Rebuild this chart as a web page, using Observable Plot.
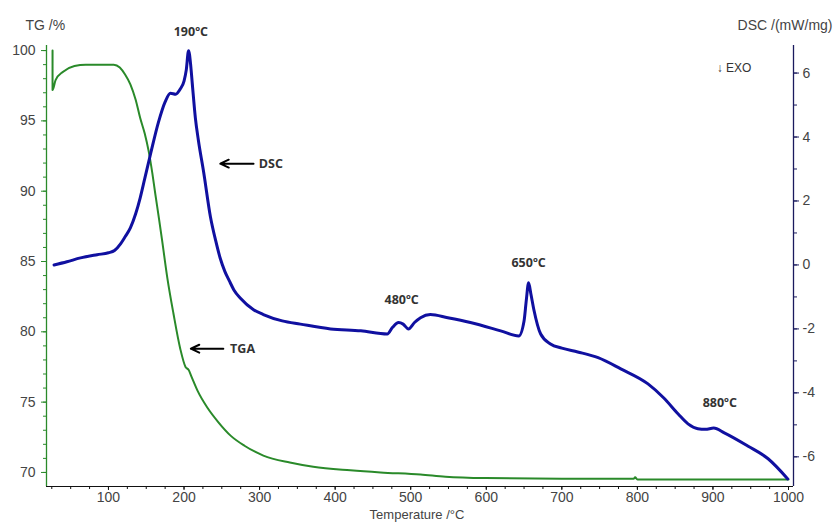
<!DOCTYPE html>
<html>
<head>
<meta charset="utf-8">
<script src="https://cdn.jsdelivr.net/npm/d3@7"></script>
<script src="https://cdn.jsdelivr.net/npm/@observablehq/plot@0.6"></script>
<style>
  html, body { margin: 0; padding: 0; background: white; overflow: hidden; }
  #chart svg { display: block; }
</style>
</head>
<body>
<div id="chart"></div>
<script>
// ---------- data ----------
const temperatureTG = [26, 26, 30, 40, 55, 70, 107, 115, 122, 129, 136, 142, 148, 153, 158, 162, 167, 171, 178, 186, 195, 202, 206, 210, 218, 231, 245, 262, 280, 305, 340, 371, 420, 460, 513, 546, 599, 700, 795, 797, 800, 1000];
const massTG = [100, 97.2, 97.9, 98.5, 98.9, 99.0, 99.0, 98.8, 98.3, 97.6, 96.5, 95.2, 94.1, 92.9, 91.3, 89.8, 88.0, 86.5, 83.8, 81.3, 78.8, 77.5, 77.3, 76.8, 75.8, 74.6, 73.6, 72.6, 71.9, 71.2, 70.7, 70.4, 70.15, 70.0, 69.85, 69.7, 69.6, 69.55, 69.55, 69.65, 69.5, 69.5];

const temperatureDSC = [28, 45, 63, 85, 100, 108, 116, 122, 129, 136, 142, 148, 156, 166, 175, 182, 189, 195, 200, 203, 206, 209, 211, 215, 219, 226, 235, 242, 248, 254, 260, 266, 275, 292, 305, 330, 354, 394, 434, 469, 476, 484, 490, 497, 505, 513, 526, 549, 579, 619, 643, 650, 653, 656, 659, 663, 672, 685, 700, 721, 748, 778, 814, 835, 854, 867, 880, 890, 901, 915, 946, 973, 999];
const heatFlowDSC = [0.0, 0.1, 0.22, 0.32, 0.38, 0.45, 0.66, 0.88, 1.16, 1.6, 2.1, 2.7, 3.5, 4.45, 5.1, 5.37, 5.34, 5.5, 5.75, 6.1, 6.7, 6.2, 5.65, 4.6, 3.9, 2.9, 1.5, 0.75, 0.2, -0.2, -0.5, -0.78, -1.05, -1.4, -1.55, -1.75, -1.85, -2.0, -2.06, -2.16, -1.95, -1.8, -1.85, -2.0, -1.8, -1.65, -1.55, -1.65, -1.8, -2.06, -2.22, -1.75, -1.1, -0.56, -0.9, -1.4, -2.16, -2.47, -2.6, -2.72, -2.9, -3.25, -3.72, -4.16, -4.66, -4.97, -5.12, -5.14, -5.1, -5.25, -5.66, -6.06, -6.69];

const tempTicks = [100, 200, 300, 400, 500, 600, 700, 800, 900, 1000];
const tgTicks = [70, 75, 80, 85, 90, 95, 100];
const dscTicks = [-6, -4, -2, 0, 2, 4, 6];

const peakLabels = ["190ºC", "480ºC", "650ºC", "880ºC"];
const peakLabelT = [209, 488, 656, 909];
const peakLabelDSC = [7.27, -1.11, 0.05, -4.33];

const curveNames = ["DSC", "TGA"];
const curveArrowFromT = [292, 252];
const curveArrowToT = [248, 209];
const curveArrowTG = [91.96, 78.8];
const curveNameT = [299, 261];

const exoLabel = "↓ EXO";
const exoT = 928;
const exoDSC = 6.14;

const titleTG = "TG /%";
const titleDSC = "DSC /(mW/mg)";
const titleTemp = "Temperature /°C";

// ---------- scales ----------
const tempDomain = [18, 1006.6];
const tgDomain = [69.0, 100.36];
// secondary (DSC) axis expressed in TG units
const DSC_ZERO = 84.755, DSC_GAIN = 2.2743;
const toTG = d => DSC_ZERO + DSC_GAIN * d;
const fromTG = v => (v - DSC_ZERO) / DSC_GAIN;

const green = "#2a8a2a";
const blue = "#1010a0";
const navy = "#1a1a5e";

const tgData = temperatureTG.map((t, i) => ({t, v: massTG[i]}));
const dscData = temperatureDSC.map((t, i) => ({t, v: toTG(heatFlowDSC[i])}));
const peakData = peakLabels.map((s, i) => ({s, t: peakLabelT[i], v: toTG(peakLabelDSC[i])}));
const arrowData = curveNames.map((s, i) => ({s, t1: curveArrowFromT[i], t2: curveArrowToT[i], v: curveArrowTG[i], tn: curveNameT[i]}));

const tempMinor = d3.range(25, 1001, 25);
const tgMinor = d3.range(70, 101, 1);
const dscMinor = d3.range(-6, 7, 1).map(toTG);

const chart = Plot.plot({
  width: 835,
  height: 523,
  marginLeft: 46,
  marginRight: 42,
  marginTop: 45,
  marginBottom: 37,
  style: {fontFamily: "'Liberation Sans', Arial, sans-serif", fontSize: "14px", background: "white", color: "#444"},
  x: {domain: tempDomain},
  y: {domain: tgDomain},
  marks: [
    // axes lines
    Plot.ruleY([tgDomain[0]], {stroke: "#111", strokeWidth: 1.2}),
    Plot.ruleX([tempDomain[0]], {stroke: green, strokeWidth: 1.3}),
    Plot.ruleX([tempDomain[1]], {stroke: navy, strokeWidth: 1.3}),
    // x axis
    Plot.axisX(tempMinor, {tickSize: 3, tickFormat: () => "", label: null, stroke: "#111"}),
    Plot.axisX(tempTicks, {tickSize: 4, tickPadding: 2, label: null, stroke: "#111", fill: "#444", fontSize: 14, tickFormat: d => String(d)}),
    // left axis
    Plot.axisY(tgMinor, {anchor: "left", tickSize: 3, tickFormat: () => "", label: null, stroke: green}),
    Plot.axisY(tgTicks, {anchor: "left", tickSize: 5, tickPadding: 6, label: null, stroke: green, fill: "#444", fontSize: 14, tickFormat: d => String(d)}),
    // right axis
    Plot.axisY(dscMinor, {anchor: "right", tickSize: 3, tickFormat: () => "", label: null, stroke: navy}),
    Plot.axisY(dscTicks.map(toTG), {anchor: "right", tickSize: 5, tickPadding: 4, label: null, stroke: navy, fill: "#444", fontSize: 14,
      tickFormat: v => String(Math.round(fromTG(v)))}),
    // curves
    Plot.line(tgData, {x: "t", y: "v", stroke: green, strokeWidth: 2, curve: "monotone-x"}),
    Plot.line(dscData, {x: "t", y: "v", stroke: blue, strokeWidth: 3, curve: "monotone-x", strokeLinejoin: "round"}),
    // annotations
    Plot.text(peakData, {x: "t", y: "v", text: "s", fontFamily: "'Open Sans', 'DejaVu Sans', sans-serif", fontWeight: 700, fontSize: 12.5, fill: "#333"}),
    Plot.arrow(arrowData, {x1: "t1", x2: "t2", y1: "v", y2: "v", stroke: "#000", strokeWidth: 2, headLength: 7, headAngle: 50}),
    Plot.text(arrowData, {x: "tn", y: "v", text: "s", textAnchor: "start", fontFamily: "'Open Sans', 'DejaVu Sans', sans-serif", fontWeight: 700, fontSize: 12.5, fill: "#333"}),
    Plot.text([exoLabel], {x: exoT, y: toTG(exoDSC), text: d => d, fontSize: 12, fill: "#333"}),
    // axis titles
    Plot.text([titleTG], {frameAnchor: "top-left", dx: -21, dy: -25, textAnchor: "start", fontSize: 14, fill: "#444", text: d => d}),
    Plot.text([titleDSC], {frameAnchor: "top-right", dx: 39, dy: -25, textAnchor: "end", fontSize: 14, fill: "#444", text: d => d}),
    Plot.text([titleTemp], {frameAnchor: "bottom", dx: -3, dy: 32, fontSize: 13, fill: "#444", text: d => d})
  ]
});
document.getElementById("chart").appendChild(chart);
</script>
</body>
</html>
